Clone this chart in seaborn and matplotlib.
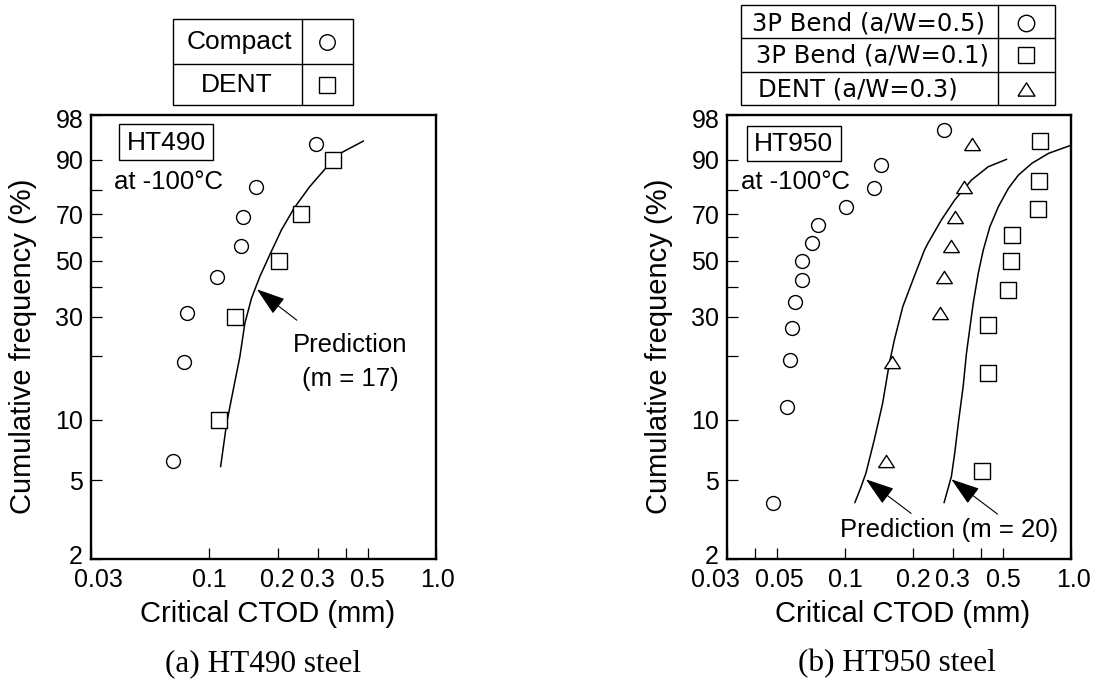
import numpy as np
import pandas as pd
import matplotlib
matplotlib.use("Agg")
import matplotlib.pyplot as plt
from matplotlib.ticker import FixedLocator, FixedFormatter, NullFormatter
from matplotlib.patches import Rectangle
from matplotlib.transforms import ScaledTranslation
import seaborn as sns

# ---------------- data ----------------
# cumulative frequency (%) levels of the plotted ranks
freq_8 = [6.25, 18.75, 31.25, 43.75, 56.25, 68.75, 81.25, 93.75]
freq_5 = [10, 30, 50, 70, 90]
freq_13 = [3.85, 11.54, 19.23, 26.92, 34.62, 42.31, 50.0, 57.69, 65.38, 73.08, 80.77, 88.46, 96.15]
freq_9 = [5.56, 16.67, 27.78, 38.89, 50.0, 61.11, 72.22, 83.33, 94.44]

# (a) HT490
ht490_compact = [0.0693, 0.0774, 0.0793, 0.1076, 0.1376, 0.1409, 0.1607, 0.295]
ht490_dent = [0.110, 0.130, 0.203, 0.2545, 0.350]
ht490_pred_ctod = [0.112, 0.1191, 0.1273, 0.1362, 0.1433, 0.1533, 0.1668, 0.1859,
                   0.2078, 0.2361, 0.2769, 0.3257, 0.378, 0.4786]
ht490_pred_freq = [5.84, 9.59, 13.89, 19.91, 28.12, 35.87, 43.68, 53.13,
                   63.18, 72.54, 81.18, 87.48, 91.65, 94.35]

# (b) HT950
ht950_bend05 = [0.048, 0.0553, 0.0573, 0.0583, 0.0602, 0.0643, 0.0643, 0.0713,
                0.0762, 0.1007, 0.1346, 0.1442, 0.2728]
ht950_bend01 = [0.4046, 0.4272, 0.4272, 0.5245, 0.5425, 0.5465, 0.7134, 0.7230, 0.7306]
ht950_dent03 = [0.1517, 0.1609, 0.2638, 0.2742, 0.2954, 0.3056, 0.3365, 0.3652]
ht950_predA_ctod = [0.1104, 0.1170, 0.1236, 0.1346, 0.1466, 0.157, 0.1652, 0.18, 0.1995,
                    0.2246, 0.2326, 0.2667, 0.3056, 0.3626, 0.4302, 0.519]
ht950_predA_freq = [3.85, 4.55, 5.42, 7.94, 12.0, 18.57, 23.73, 33.1, 42.42,
                    54.52, 57.4, 67.54, 75.99, 83.6, 87.97, 90.1]
ht950_predB_ctod = [0.2742, 0.2954, 0.3056, 0.3184, 0.333, 0.3445, 0.369, 0.3885,
                    0.4089, 0.4375, 0.477, 0.5283, 0.5854, 0.6709, 0.796, 0.960, 1.0]
ht950_predB_freq = [3.85, 5.21, 6.82, 9.95, 14.41, 20.65, 34.21, 44.99,
                    54.52, 64.62, 73.22, 80.58, 85.33, 88.97, 91.65, 93.18, 93.5]

# tick labels
y_major = [2, 5, 10, 30, 50, 70, 90, 98]
y_major_labels = ["2", "5", "10", "30", "50", "70", "90", "98"]
y_minor = [20, 40, 60, 80]
xL_major = [0.03, 0.1, 0.2, 0.3, 0.5, 1.0]
xL_major_labels = ["0.03", "0.1", "0.2", "0.3", "0.5", "1.0"]
xL_minor = [0.4]
xR_major = [0.03, 0.05, 0.1, 0.2, 0.3, 0.5, 1.0]
xR_major_labels = ["0.03", "0.05", "0.1", "0.2", "0.3", "0.5", "1.0"]
xR_minor = [0.04, 0.4]

# ---------------- style ----------------
sns.set_style("ticks")
plt.rcParams["font.family"] = ["Liberation Sans", "DejaVu Sans"]
plt.rcParams["axes.linewidth"] = 1.7

W, H = 1093, 686
fig = plt.figure(figsize=(W / 100, H / 100), dpi=100)


def frac_rect(x0, yt, x1, yb):
    return [x0 / W, 1 - yb / H, (x1 - x0) / W, (yb - yt) / H]


axL = fig.add_axes(frac_rect(91, 115, 436, 558.7))
axR = fig.add_axes(frac_rect(727, 115, 1071, 558.7))


def weib(p):
    p = np.clip(np.asarray(p, dtype=float), 1e-6, 100 - 1e-6)
    return np.log(-np.log(1 - p / 100.0))


def weib_inv(w):
    w = np.asarray(w, dtype=float)
    return 100.0 * (1 - np.exp(-np.exp(w)))


for ax in (axL, axR):
    ax.set_xscale("log")
    ax.set_yscale("function", functions=(weib, weib_inv))

tri = [(-1, -0.78), (1, -0.78), (0, 0.78), (-1, -0.78)]
mk_kw = dict(color="white", edgecolor="black", linewidth=1.0, zorder=3, legend=False)
ln_kw = dict(color="black", linewidth=1.1, sort=False, estimator=None, legend=False)

# ---- (a) HT490 ----
df_pred490 = pd.DataFrame({"ctod": ht490_pred_ctod, "freq": ht490_pred_freq})
sns.lineplot(data=df_pred490, x="ctod", y="freq", ax=axL, **ln_kw)
sns.scatterplot(data=pd.DataFrame({"ctod": ht490_compact, "freq": freq_8}),
                x="ctod", y="freq", marker="o", s=100, ax=axL, **mk_kw)
sns.scatterplot(data=pd.DataFrame({"ctod": ht490_dent, "freq": freq_5}),
                x="ctod", y="freq", marker="s", s=117, ax=axL, **mk_kw)

# ---- (b) HT950 ----
sns.lineplot(data=pd.DataFrame({"ctod": ht950_predA_ctod, "freq": ht950_predA_freq}),
             x="ctod", y="freq", ax=axR, **ln_kw)
sns.lineplot(data=pd.DataFrame({"ctod": ht950_predB_ctod, "freq": ht950_predB_freq}),
             x="ctod", y="freq", ax=axR, **ln_kw)
sns.scatterplot(data=pd.DataFrame({"ctod": ht950_bend05, "freq": freq_13}),
                x="ctod", y="freq", marker="o", s=100, ax=axR, **mk_kw)
sns.scatterplot(data=pd.DataFrame({"ctod": ht950_bend01, "freq": freq_9}),
                x="ctod", y="freq", marker="s", s=117, ax=axR, **mk_kw)
sns.scatterplot(data=pd.DataFrame({"ctod": ht950_dent03, "freq": freq_8}),
                x="ctod", y="freq", marker=tri, s=128, ax=axR, **mk_kw)

for ax, xmaj, xlab, xmin in ((axL, xL_major, xL_major_labels, xL_minor),
                             (axR, xR_major, xR_major_labels, xR_minor)):
    ax.set_xlim(0.03, 1.0)
    ax.set_ylim(2, 98)
    ax.xaxis.set_major_locator(FixedLocator(xmaj))
    ax.xaxis.set_major_formatter(FixedFormatter(xlab))
    ax.xaxis.set_minor_locator(FixedLocator(xmin))
    ax.xaxis.set_minor_formatter(NullFormatter())
    ax.yaxis.set_major_locator(FixedLocator(y_major))
    ax.yaxis.set_major_formatter(FixedFormatter(y_major_labels))
    ax.yaxis.set_minor_locator(FixedLocator(y_minor))
    ax.yaxis.set_minor_formatter(NullFormatter())
    ax.tick_params(axis="both", which="both", direction="in", length=8, width=0.9,
                   labelsize=18, colors="black", top=False, right=False)
    ax.tick_params(axis="x", which="major", pad=7)
    ax.tick_params(axis="y", which="major", pad=5.5)
    ax.set_xlabel("")
    ax.set_ylabel("")
    for sp in ax.spines.values():
        sp.set_visible(True)
        sp.set_linewidth(1.7)
        sp.set_color("black")


def nudge(ticks, idx, dx_px, dy_px):
    lab = ticks[idx].label1
    lab.set_transform(lab.get_transform() +
                      ScaledTranslation(dx_px / 100, -dy_px / 100, fig.dpi_scale_trans))


# small label offsets as in the reference
nudge(axL.xaxis.get_major_ticks(), 0, 7, 0)
nudge(axL.xaxis.get_major_ticks(), 5, 2, 0)
nudge(axR.xaxis.get_major_ticks(), 0, -12, 0)
nudge(axR.xaxis.get_major_ticks(), 1, 2, 0)
nudge(axR.xaxis.get_major_ticks(), 6, 3, 0)
for ax in (axL, axR):
    yt = ax.yaxis.get_major_ticks()
    nudge(yt, 0, -1, -4)
    nudge(yt, 7, 0, 3)

# arrows (data coordinates)
arr = dict(arrowstyle="-|>,head_length=0.9,head_width=0.3", color="black", lw=0.8,
           shrinkA=0, shrinkB=0, mutation_scale=20)
axL.annotate("", xy=(0.162, 39.0), xytext=(0.243, 29.0), arrowprops=arr)
axR.annotate("", xy=(0.1236, 5.05), xytext=(0.196, 3.4), arrowprops=arr)
axR.annotate("", xy=(0.2954, 5.05), xytext=(0.4734, 3.37), arrowprops=arr)

# ---------------- overlay (pixel coordinates) ----------------
ov = fig.add_axes([0, 0, 1, 1])
ov.set_xlim(0, W)
ov.set_ylim(H, 0)
ov.axis("off")

sans = ["Liberation Sans", "DejaVu Sans"]


def txt(x, y, s, size, family=sans, **kw):
    ov.text(x, y, s, fontsize=size, family=family, ha="center", va="center",
            color="black", **kw)


def box(x0, y0, x1, y1, lw=1.0):
    ov.add_patch(Rectangle((x0, y0), x1 - x0, y1 - y0, fill=False,
                           edgecolor="black", linewidth=lw))


# left legend table
box(173.3, 19.3, 352.7, 105.3)
ov.plot([302.3, 302.3], [19.3, 105.3], color="black", lw=1.0)
ov.plot([173.3, 352.7], [64.3, 64.3], color="black", lw=1.0)
txt(239.7, 42, "Compact", 19)
txt(236.7, 85, "DENT", 19)
ov.scatter([327], [42], marker="o", s=125, facecolor="white", edgecolor="black", linewidth=1.0)
ov.scatter([327], [85], marker="s", s=125, facecolor="white", edgecolor="black", linewidth=1.0)

# right legend table
box(741.3, 4.7, 1055.4, 105.3)
ov.plot([997.6, 997.6], [4.7, 105.3], color="black", lw=1.0)
ov.plot([741.3, 1055.4], [38.3, 38.3], color="black", lw=1.0)
ov.plot([741.3, 1055.4], [71.7, 71.7], color="black", lw=1.0)
rfam = ["DejaVu Sans"]
txt(868.4, 23.5, "3P Bend (a/W=0.5)", 17.5, family=rfam)
txt(872.7, 55, "3P Bend (a/W=0.1)", 17.5, family=rfam)
txt(857.8, 90, "DENT (a/W=0.3)", 17.5, family=rfam)
ov.scatter([1026], [23.3], marker="o", s=140, facecolor="white", edgecolor="black", linewidth=1.0)
ov.scatter([1026], [54.5], marker="s", s=140, facecolor="white", edgecolor="black", linewidth=1.0)
ov.scatter([1026], [88.5], marker=tri, s=150, facecolor="white", edgecolor="black", linewidth=1.0)

# in-plot labels
box(119.3, 124.3, 213.3, 160)
txt(166.3, 142.5, "HT490", 19)
txt(168.5, 182, "at -100°C", 18.5)
box(746.7, 125.7, 840.5, 161)
txt(793.6, 143.8, "HT950", 19)
txt(795.9, 182, "at -100°C", 18.5)
txt(350, 345.5, "Prediction", 18.5)
txt(350, 379, "(m = 17)", 18.5)
txt(949.3, 530.5, "Prediction (m = 20)", 18.5)

# axis labels
txt(23.5, 346.7, "Cumulative frequency (%)", 21, rotation=90)
txt(658.6, 346.7, "Cumulative frequency (%)", 21, rotation=90)
txt(267.5, 614, "Critical CTOD (mm)", 21)
txt(902.5, 614, "Critical CTOD (mm)", 21)

# captions
serif = ["Liberation Serif", "DejaVu Serif"]
txt(263, 664, "(a) HT490 steel", 22.5, family=serif)
txt(897.4, 664, "(b) HT950 steel", 22.5, family=serif)

fig.savefig("out.png", dpi=100)
